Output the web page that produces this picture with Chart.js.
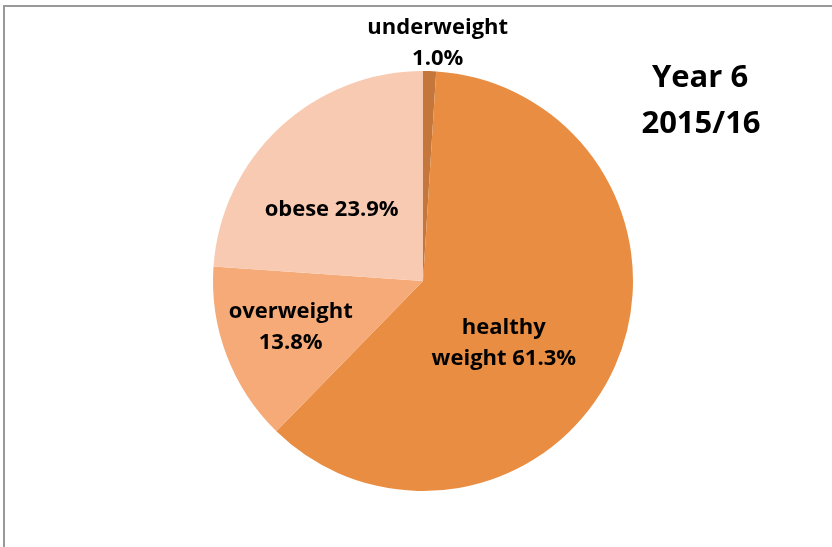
<html>
	<head>
		<script src="https://cdn.jsdelivr.net/npm/chart.js@4/dist/chart.umd.min.js"></script>
		<style>
			body { margin: 0; background: #fff; }
			#wrap { width: 832px; height: 547px; position: relative; }
		</style>
	</head>
	<body>
		<div id="wrap"><canvas id="myChart" width="832" height="547"></canvas></div>
		<script>
			var categories = ["underweight", "healthy weight", "overweight", "obese"];
			var values = [1.0, 61.3, 13.8, 23.9];
			// how each label is split into lines
			var labelLines = [
				["underweight", "1.0%"],
				["healthy", "weight 61.3%"],
				["overweight", "13.8%"],
				["obese 23.9%"]
			];
			var colors = ["#C5763A", "#E88D42", "#F6AA78", "#F8CAB2"];
			var titleLines = ["Year 6", "2015/16"];

			// label anchor as fraction of radius from the pie centre (x, y)
			var labelPos = [[0.07, -1.13], [0.385, 0.295], [-0.63, 0.22], [-0.435, -0.34]];

			var fontName = "'Open Sans', Lato, sans-serif";

			var framePlugin = {
				id: 'frame',
				beforeDraw: function(chart){
					var c = chart.ctx;
					c.save();
					c.fillStyle = "#fff";
					c.fillRect(0, 0, chart.width, chart.height);
					c.strokeStyle = "#999";
					c.lineWidth = 2;
					c.beginPath();
					c.moveTo(4, chart.height);
					c.lineTo(4, 6);
					c.lineTo(chart.width, 6);
					c.stroke();
					c.restore();
				}
			};

			var labelPlugin = {
				id: 'sliceLabels',
				afterDraw: function(chart){
					var c = chart.ctx;
					var arcs = chart.getDatasetMeta(0).data;
					c.save();
					c.fillStyle = "#000";
					c.textAlign = "center";
					c.textBaseline = "middle";
					c.font = "bold 22px " + fontName;
					for(var i = 0; i < arcs.length; i++){
						var a = arcs[i];
						var x = a.x + labelPos[i][0] * a.outerRadius;
						var y = a.y + labelPos[i][1] * a.outerRadius;
						var lines = labelLines[i];
						var lh = 31;
						var y0 = y - (lines.length - 1) * lh / 2;
						for(var j = 0; j < lines.length; j++){
							c.fillText(lines[j], x, y0 + j * lh);
						}
					}
					// title box top right
					c.font = "bold 31px " + fontName;
					c.fillText(titleLines[0], 700, 78);
					c.fillText(titleLines[1], 701, 124);
					c.restore();
				}
			};

			var ctx = document.getElementById("myChart").getContext('2d');
			var myChart = new Chart(ctx, {
				type: 'pie',
				data: {
					labels: categories,
					datasets: [{
						data: values,
						backgroundColor: colors,
						borderWidth: 0
					}]
				},
				options: {
					responsive: false,
					animation: false,
					layout: { padding: { left: 213, right: 199, top: 71, bottom: 56 } },
					plugins: {
						legend: { display: false },
						tooltip: { enabled: false }
					}
				},
				plugins: [framePlugin, labelPlugin]
			});
		</script>
	</body>
</html>
